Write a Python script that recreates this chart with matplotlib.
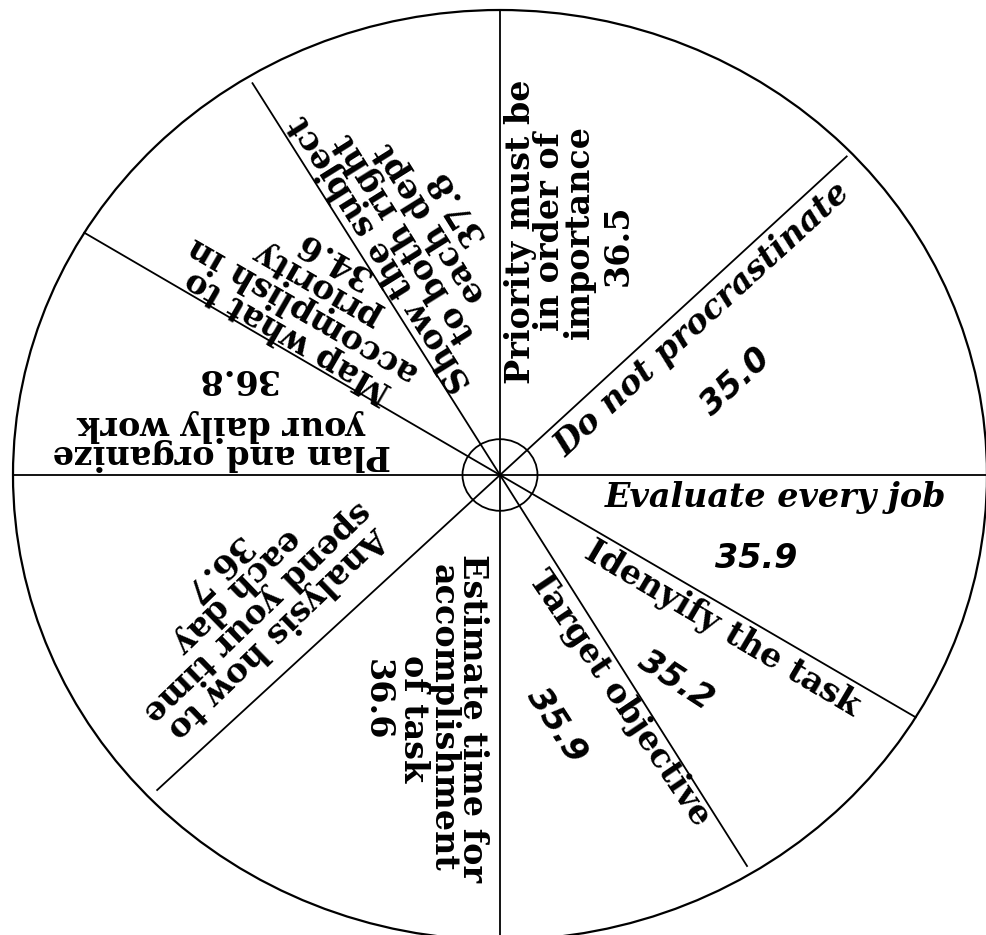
import numpy as np
import matplotlib.pyplot as plt
from matplotlib.patches import Circle

# slices, clockwise starting at 12 o'clock
labels = [
    "Priority must be\nin order of\nimportance",
    "Do not procrastinate",
    "Evaluate every job",
    "Idenyify the task",
    "Target objective",
    "Estimate time for\naccomplishment\nof task",
    "Analysis how to\nspend your time\neach day",
    "Plan and organize\nyour daily work",
    "Map what to\naccomplish in\npriority",
    "Show the subject\nto both right\neach dept",
]
values = [36.5, 35.0, 35.9, 35.2, 35.9, 36.6, 36.7, 36.8, 34.6, 37.8]

# spokes dividing the disc (degrees ccw from 3 o'clock)
spoke_angles = [90, 43.9, 0, -31.4, -58.9, -90, -136.1, 180, 148.6, 121.1]

# ---- layout / style ----
spoke_reach = [1.0, 0.988, 1.0, 1.0, 0.982, 1.0, 0.977, 1.0, 1.0, 0.984]
# (polar angle, radius, text rotation)
label_pos = [(78.9, 0.533, 90), (38.8, 0.535, 42.6), (-5.0, 0.567, 0),
             (-35.9, 0.565, -30.6), (-62.8, 0.539, -56), (-102.6, 0.536, -90),
             (-149.5, 0.580, 224), (172.5, 0.576, 180), (138.9, 0.538, 150),
             (111.0, 0.545, 122)]
value_pos = [(63.9, 0.551, 90), (22.4, 0.524, 43), (-18.8, 0.555, 0),
             (-50.7, 0.57, -33), (-77.9, 0.55, -57), (-117.6, 0.546, -90),
             (-160.9, 0.619, 224), (159.0, 0.580, 180), (126.5, 0.578, 150),
             (99.0, 0.584, 122)]
label_italic = [False, True, True, False, False, False, False, False, False, False]
value_italic = [False, True, True, True, True, False, False, False, False, False]

fig = plt.figure(figsize=(9.86, 9.35), dpi=100)
ax = fig.add_axes([0, 0, 1, 1])
ax.set_xlim(-500 / 487, 486 / 487)
ax.set_ylim(-460 / 465, 475 / 465)
ax.axis('off')

ax.add_patch(Circle((0, 0), 1, fill=False, lw=1.6, color='black'))
for a, r in zip(spoke_angles, spoke_reach):
    t = np.radians(a)
    ax.plot([0, r * np.cos(t)], [0, r * np.sin(t)], color='black', lw=1.3)
ax.add_patch(Circle((0, 0), 0.077, fill=False, lw=1.3, color='black'))

for i in range(len(labels)):
    a, r, rot = label_pos[i]
    t = np.radians(a)
    ax.text(r * np.cos(t), r * np.sin(t), labels[i], rotation=rot,
            rotation_mode='anchor', ha='center', va='center',
            multialignment='center', linespacing=0.85,
            family='DejaVu Serif', weight='bold',
            style='italic' if label_italic[i] else 'normal', fontsize=24)

    a, r, rot = value_pos[i]
    t = np.radians(a)
    if value_italic[i]:
        fam, st = 'DejaVu Sans', 'italic'
    else:
        fam, st = 'DejaVu Serif', 'normal'
    ax.text(r * np.cos(t), r * np.sin(t), f"{values[i]:.1f}", rotation=rot,
            rotation_mode='anchor', ha='center', va='center',
            family=fam, weight='bold', style=st, fontsize=24)

fig.savefig('out.png', dpi=100)
